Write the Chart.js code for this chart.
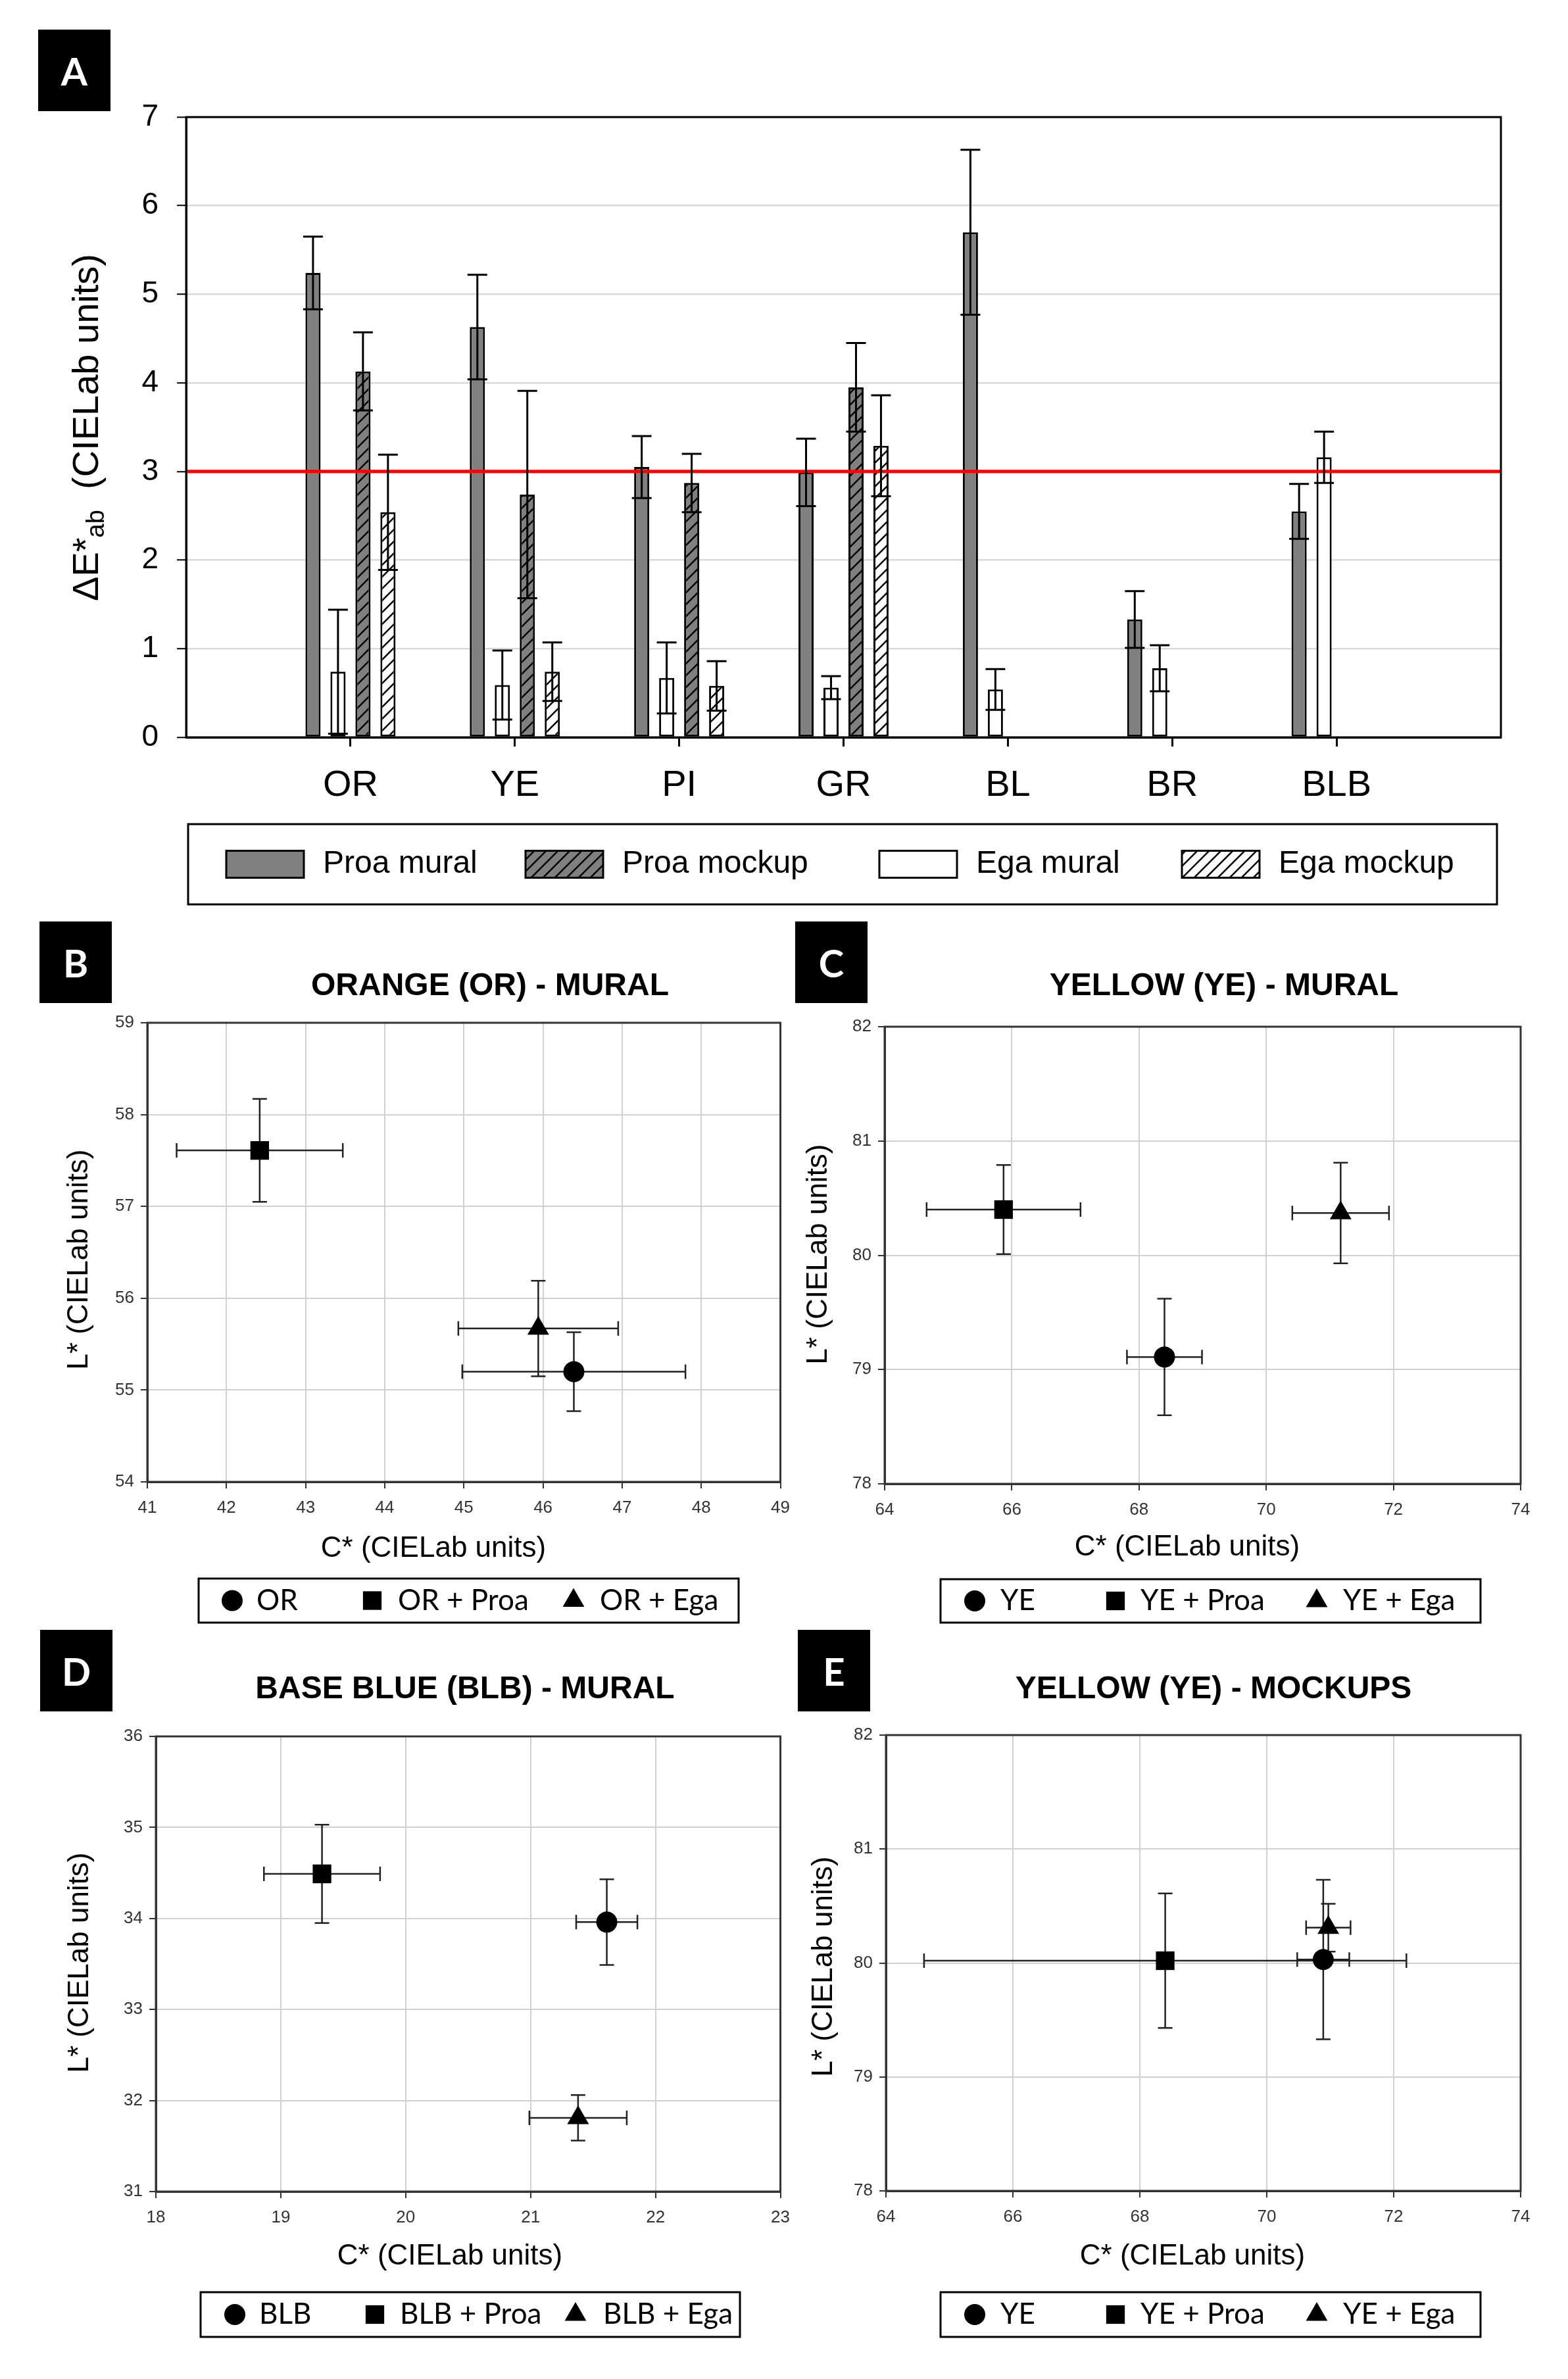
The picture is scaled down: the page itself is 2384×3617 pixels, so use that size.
<!DOCTYPE html>
<html>
<head>
<meta charset="utf-8">
<title>Colour difference and L*C* plots</title>
<script src="https://cdn.jsdelivr.net/npm/chart.js@4.4.1/dist/chart.umd.min.js"></script>
<style>
  html, body { margin: 0; padding: 0; background: #fff; }
  body { width: 2384px; height: 3617px; position: relative; overflow: hidden; }
  canvas { position: absolute; }
  .tag {
    position: absolute; width: 110px; height: 124px; z-index: 2;
    background: #000; color: #fff;
    font: bold 58px Lato, 'Open Sans', sans-serif;
    display: flex; align-items: center; justify-content: center;
  }
</style>
</head>
<body>
<div class="tag" style="left:58px;top:45px">A</div>
<div class="tag" style="left:60px;top:1401px">B</div>
<div class="tag" style="left:1209px;top:1401px">C</div>
<div class="tag" style="left:61px;top:2478px">D</div>
<div class="tag" style="left:1213px;top:2478px">E</div>

<canvas id="chartA" width="2384" height="1400" style="left:0;top:0"></canvas>
<canvas id="chartB" width="1215" height="1110" style="left:0;top:1380px"></canvas>
<canvas id="chartC" width="1189" height="1110" style="left:1195px;top:1380px"></canvas>
<canvas id="chartD" width="1215" height="1152" style="left:0;top:2465px"></canvas>
<canvas id="chartE" width="1189" height="1152" style="left:1195px;top:2465px"></canvas>

<script>
// ---- panel A: colour difference per pigment ----
const categories = ['OR', 'YE', 'PI', 'GR', 'BL', 'BR', 'BLB'];
const proaMural = [5.24, 4.63, 3.05, 2.99, 5.70, 1.33, 2.55];
const proaMuralSd = [0.41, 0.59, 0.35, 0.38, 0.93, 0.32, 0.31];
const egaMural = [0.74, 0.59, 0.67, 0.56, 0.54, 0.78, 3.16];
const egaMuralSd = [0.70, 0.39, 0.40, 0.13, 0.23, 0.26, 0.29];
const proaMockup = [4.13, 2.74, 2.87, 3.95, null, null, null];
const proaMockupSd = [0.44, 1.17, 0.33, 0.50, null, null, null];
const egaMockup = [2.54, 0.74, 0.58, 3.29, null, null, null];
const egaMockupSd = [0.65, 0.33, 0.28, 0.57, null, null, null];
const threshold = 3;
const deltaTicks = [0, 1, 2, 3, 4, 5, 6, 7];

// ---- panels B-E: L* vs C* ----
const orNames = ['OR', 'OR + Proa', 'OR + Ega'];
const orC = [46.39, 42.42, 45.94];
const orL = [55.20, 57.61, 55.67];
const orCErr = [1.41, 1.05, 1.01];
const orLErr = [0.43, 0.56, 0.52];
const orCTicks = [41, 42, 43, 44, 45, 46, 47, 48, 49];
const orLTicks = [54, 55, 56, 57, 58, 59];

const yeNames = ['YE', 'YE + Proa', 'YE + Ega'];
const yeC = [68.40, 65.87, 71.17];
const yeL = [79.11, 80.40, 80.37];
const yeCErr = [0.59, 1.21, 0.76];
const yeLErr = [0.51, 0.39, 0.44];
const yeCTicks = [64, 66, 68, 70, 72, 74];
const yeLTicks = [78, 79, 80, 81, 82];

const blbNames = ['BLB', 'BLB + Proa', 'BLB + Ega'];
const blbC = [21.61, 19.33, 21.38];
const blbL = [33.96, 34.49, 31.81];
const blbCErr = [0.245, 0.465, 0.39];
const blbLErr = [0.47, 0.54, 0.25];
const blbCTicks = [18, 19, 20, 21, 22, 23];
const blbLTicks = [31, 32, 33, 34, 35, 36];

const yeMockNames = ['YE', 'YE + Proa', 'YE + Ega'];
const yeMockC = [70.89, 68.40, 70.97];
const yeMockL = [80.03, 80.02, 80.31];
const yeMockCErr = [0.41, 3.80, 0.35];
const yeMockLErr = [0.70, 0.59, 0.21];

const markerStyles = ['circle', 'rect', 'triangle'];
const markerRadii = [16, 20, 19];

const ARIAL = "'Liberation Sans', Arial, sans-serif";
const CALIBRI = "Lato, 'Open Sans', sans-serif";

// draw a marker the same way Chart.js shapes its points
function marker(ctx, style, r, x, y) {
  ctx.beginPath();
  if (style === 'circle') {
    ctx.arc(x, y, r, 0, Math.PI * 2);
  } else if (style === 'rect') {
    const s = r * Math.SQRT1_2;
    ctx.rect(x - s, y - s, 2 * s, 2 * s);
  } else {
    ctx.moveTo(x, y - r);
    ctx.lineTo(x + r * Math.sin(Math.PI * 2 / 3), y + r / 2);
    ctx.lineTo(x - r * Math.sin(Math.PI * 2 / 3), y + r / 2);
    ctx.closePath();
  }
  ctx.fill();
}

function hatch(ctx, bg) {
  const size = 18;
  const c = document.createElement('canvas');
  c.width = c.height = size;
  const g = c.getContext('2d');
  g.fillStyle = bg;
  g.fillRect(0, 0, size, size);
  g.strokeStyle = '#000';
  g.lineWidth = 2.5;
  g.beginPath();
  g.moveTo(-2, size + 2); g.lineTo(size + 2, -2);
  g.moveTo(-2, 2); g.lineTo(2, -2);
  g.moveTo(size - 2, size + 2); g.lineTo(size + 2, size - 2);
  g.stroke();
  return ctx.createPattern(c, 'repeat');
}

// error bars: vertical for bars, both directions for scatter points
function drawErrors(chart, opts) {
  const {ctx, scales: {x, y}} = chart;
  ctx.save();
  ctx.strokeStyle = opts.color;
  ctx.lineWidth = opts.width;
  const cap = opts.cap;
  chart.data.datasets.forEach((ds, i) => {
    if (!ds.errorY) return;
    const meta = chart.getDatasetMeta(i);
    meta.data.forEach((el, j) => {
      const raw = ds.data[j];
      const ey = ds.errorY[j];
      if (raw == null || ey == null) return;
      const v = typeof raw === 'object' ? raw.y : raw;
      const top = y.getPixelForValue(v + ey);
      const bot = y.getPixelForValue(Math.max(v - ey, y.min));
      ctx.beginPath();
      ctx.moveTo(el.x, top); ctx.lineTo(el.x, bot);
      ctx.moveTo(el.x - cap, top); ctx.lineTo(el.x + cap, top);
      ctx.moveTo(el.x - cap, bot); ctx.lineTo(el.x + cap, bot);
      if (ds.errorX && typeof raw === 'object') {
        const ex = ds.errorX[j];
        const l = x.getPixelForValue(raw.x - ex);
        const r = x.getPixelForValue(raw.x + ex);
        ctx.moveTo(l, el.y); ctx.lineTo(r, el.y);
        ctx.moveTo(l, el.y - cap); ctx.lineTo(l, el.y + cap);
        ctx.moveTo(r, el.y - cap); ctx.lineTo(r, el.y + cap);
      }
      ctx.stroke();
    });
  });
  ctx.restore();
}

const errorBars = {
  id: 'errorBars',
  beforeDatasetsDraw(chart, args, opts) { if (opts.color && opts.under) drawErrors(chart, opts); },
  afterDatasetsDraw(chart, args, opts) { if (opts.color && !opts.under) drawErrors(chart, opts); }
};

const frame = {
  id: 'frame',
  afterDraw(chart, args, opts) {
    if (!opts.color) return;
    const {ctx, chartArea: a} = chart;
    ctx.save();
    ctx.strokeStyle = opts.color;
    ctx.lineWidth = opts.width;
    ctx.strokeRect(a.left, a.top, a.right - a.left, a.bottom - a.top);
    ctx.restore();
  }
};

const framedLegend = {
  id: 'framedLegend',
  afterDraw(chart, args, opts) {
    if (!opts.box) return;
    const {ctx} = chart;
    const box = opts.box;
    const cy = box.top + box.height / 2;
    ctx.save();
    ctx.strokeStyle = '#000';
    ctx.lineWidth = opts.lineWidth;
    ctx.strokeRect(box.left, box.top, box.width, box.height);
    ctx.font = opts.font;
    ctx.textBaseline = 'middle';
    ctx.textAlign = 'left';
    opts.items.forEach(item => {
      if (item.swatch) {
        const {w, h} = opts.swatchSize;
        ctx.fillStyle = item.swatch;
        ctx.fillRect(item.x, cy - h / 2, w, h);
        ctx.lineWidth = 3;
        ctx.strokeRect(item.x, cy - h / 2, w, h);
        ctx.fillStyle = '#000';
        ctx.fillText(item.text, item.x + w + opts.gap, cy);
      } else {
        ctx.fillStyle = '#000';
        marker(ctx, item.style, item.radius, item.x, cy);
        ctx.fillText(item.text, item.textX, cy);
      }
    });
    ctx.restore();
  }
};

const panelText = {
  id: 'panelText',
  afterDraw(chart, args, opts) {
    if (!opts.items) return;
    const {ctx} = chart;
    opts.items.forEach(item => {
      ctx.save();
      ctx.translate(item.x, item.y);
      if (item.rotate) ctx.rotate(item.rotate * Math.PI / 180);
      ctx.fillStyle = '#000';
      ctx.textBaseline = 'middle';
      ctx.textAlign = 'left';
      const parts = item.parts || [{text: item.text, font: item.font}];
      const widths = parts.map(p => { ctx.font = p.font; return ctx.measureText(p.text).width; });
      let cx = -widths.reduce((s, w) => s + w, 0) / 2;
      parts.forEach((p, k) => {
        ctx.font = p.font;
        ctx.fillText(p.text, cx, p.dy || 0);
        cx += widths[k];
      });
      ctx.restore();
    });
  }
};

Chart.register(errorBars, frame, framedLegend, panelText);

// ---------- panel A ----------
const canvasA = document.getElementById('chartA');
const ctxA = canvasA.getContext('2d');
const grayFill = '#808080';
const grayHatch = hatch(ctxA, grayFill);
const whiteHatch = hatch(ctxA, '#ffffff');
const axisLabels = ['', ...categories, ''];
const pad = arr => [null, ...arr, null];

new Chart(ctxA, {
  data: {
    labels: axisLabels,
    datasets: [
      { type: 'line', label: 'ΔE*ab = 3', data: axisLabels.map(() => threshold),
        borderColor: '#ff0000', borderWidth: 5, pointRadius: 0, order: 1 },
      { type: 'bar', label: 'Proa mural', data: pad(proaMural), errorY: pad(proaMuralSd),
        backgroundColor: grayFill, order: 2 },
      { type: 'bar', label: 'Ega mural', data: pad(egaMural), errorY: pad(egaMuralSd),
        backgroundColor: '#ffffff', order: 2 },
      { type: 'bar', label: 'Proa mockup', data: pad(proaMockup), errorY: pad(proaMockupSd),
        backgroundColor: grayHatch, order: 2 },
      { type: 'bar', label: 'Ega mockup', data: pad(egaMockup), errorY: pad(egaMockupSd),
        backgroundColor: whiteHatch, order: 2 }
    ]
  },
  options: {
    responsive: false,
    animation: false,
    devicePixelRatio: 1,
    events: [],
    layout: { padding: { left: 183, right: 102, top: 178, bottom: 159 } },
    datasets: {
      bar: { categoryPercentage: 0.608, barPercentage: 0.605, borderColor: '#000',
             borderWidth: 3, borderSkipped: false }
    },
    scales: {
      x: {
        type: 'category',
        offset: false,
        grid: {
          offset: false,
          drawOnChartArea: false, tickLength: 14, tickWidth: 3,
          tickColor: c => (c.index === 0 || c.index === axisLabels.length - 1) ? 'rgba(0,0,0,0)' : '#000'
        },
        border: { color: '#000', width: 3 },
        ticks: { font: { family: ARIAL, size: 56 }, color: '#000', padding: 26, autoSkip: false, maxRotation: 0 },
        afterFit: s => { s.height = 120; }
      },
      y: {
        min: deltaTicks[0],
        max: deltaTicks[deltaTicks.length - 1],
        grid: { color: '#d9d9d9', lineWidth: 2.5, tickLength: 14, tickColor: '#000', tickWidth: 2 },
        border: { color: '#000', width: 3 },
        ticks: { stepSize: 1, font: { family: ARIAL, size: 46 }, color: '#000', padding: 28 },
        afterFit: s => { s.width = 100; }
      }
    },
    plugins: {
      legend: { display: false },
      tooltip: { enabled: false },
      errorBars: { color: '#000', width: 3, cap: 15 },
      frame: { color: '#000', width: 3 },
      framedLegend: {
        box: { left: 286, top: 1253, width: 1990, height: 122 },
        lineWidth: 3,
        font: `48px ${ARIAL}`,
        swatchSize: { w: 118, h: 41 },
        gap: 29,
        items: [
          { text: 'Proa mural', swatch: grayFill, x: 344 },
          { text: 'Proa mockup', swatch: grayHatch, x: 799 },
          { text: 'Ega mural', swatch: '#ffffff', x: 1337 },
          { text: 'Ega mockup', swatch: whiteHatch, x: 1797 }
        ]
      },
      panelText: {
        items: [{
          x: 134, y: 650, rotate: -90,
          parts: [
            { text: 'ΔE*', font: `56px ${ARIAL}` },
            { text: 'ab', font: `38px ${ARIAL}`, dy: 14 },
            { text: '  (CIELab units)', font: `56px ${ARIAL}` }
          ]
        }]
      }
    }
  }
});

// ---------- panels B-E ----------
function lcScatter(id, p) {
  const canvas = document.getElementById(id);
  const a = p.area;
  const cStep = p.cTicks[1] - p.cTicks[0];
  const lStep = p.lTicks[1] - p.lTicks[0];
  const tickFont = { family: ARIAL, size: 26 };
  return new Chart(canvas, {
    type: 'scatter',
    data: {
      datasets: p.names.map((name, i) => ({
        label: name,
        data: [{ x: p.c[i], y: p.l[i] }],
        errorX: [p.cErr[i]],
        errorY: [p.lErr[i]],
        pointStyle: markerStyles[i],
        pointRadius: markerRadii[i],
        backgroundColor: '#000',
        borderWidth: 0
      }))
    },
    options: {
      responsive: false,
      animation: false,
      devicePixelRatio: 1,
      events: [],
      layout: { padding: { left: a.left - 80, right: canvas.width - a.right, top: a.top, bottom: canvas.height - a.bottom - 100 } },
      scales: {
        x: {
          type: 'linear',
          min: p.cTicks[0],
          max: p.cTicks[p.cTicks.length - 1],
          grid: { color: '#d0d0d0', lineWidth: 2, tickLength: 10, tickColor: '#333', tickWidth: 2 },
          border: { color: '#333', width: 3 },
          ticks: { stepSize: cStep, font: tickFont, color: '#333', padding: 14 },
          afterFit: s => { s.height = 100; }
        },
        y: {
          type: 'linear',
          min: p.lTicks[0],
          max: p.lTicks[p.lTicks.length - 1],
          grid: { color: '#d0d0d0', lineWidth: 2, tickLength: 10, tickColor: '#333', tickWidth: 2 },
          border: { color: '#333', width: 3 },
          ticks: { stepSize: lStep, font: tickFont, color: '#333', padding: 10 },
          afterFit: s => { s.width = 80; }
        }
      },
      plugins: {
        legend: { display: false },
        tooltip: { enabled: false },
        errorBars: { color: '#222', width: 2.5, cap: 11, under: true },
        frame: { color: '#333', width: 3 },
        framedLegend: {
          box: p.legendBox,
          lineWidth: 3,
          font: `44px ${CALIBRI}`,
          items: p.names.map((name, i) => ({
            text: name, style: markerStyles[i], radius: markerRadii[i],
            x: p.markerX[i], textX: p.textX[i]
          }))
        },
        panelText: {
          items: [
            { text: p.title, font: `bold 48px ${ARIAL}`, x: p.titlePos[0], y: p.titlePos[1] },
            { text: 'C* (CIELab units)', font: `44px ${ARIAL}`, x: p.xTitlePos[0], y: p.xTitlePos[1] },
            { text: 'L* (CIELab units)', font: `44px ${ARIAL}`, x: p.yTitlePos[0], y: p.yTitlePos[1], rotate: -90 }
          ]
        }
      }
    }
  });
}

lcScatter('chartB', {
  names: orNames, c: orC, l: orL, cErr: orCErr, lErr: orLErr,
  cTicks: orCTicks, lTicks: orLTicks,
  area: { left: 224, top: 175, right: 1194, bottom: 873 },
  title: 'ORANGE (OR) - MURAL', titlePos: [745, 120],
  xTitlePos: [659, 975], yTitlePos: [121, 535],
  legendBox: { left: 302, top: 1020, width: 821, height: 67 },
  markerX: [353, 566, 872], textX: [390, 605, 912]
});

lcScatter('chartC', {
  names: yeNames, c: yeC, l: yeL, cErr: yeCErr, lErr: yeLErr,
  cTicks: yeCTicks, lTicks: yeLTicks,
  area: { left: 150, top: 181, right: 1117, bottom: 876 },
  title: 'YELLOW (YE) - MURAL', titlePos: [666, 120],
  xTitlePos: [610, 973], yTitlePos: [50, 527],
  legendBox: { left: 235, top: 1021, width: 821, height: 66 },
  markerX: [287, 501, 807], textX: [326, 539, 847]
});

lcScatter('chartD', {
  names: blbNames, c: blbC, l: blbL, cErr: blbCErr, lErr: blbLErr,
  cTicks: blbCTicks, lTicks: blbLTicks,
  area: { left: 237, top: 175, right: 1198, bottom: 867 },
  title: 'BASE BLUE (BLB) - MURAL', titlePos: [707, 104],
  xTitlePos: [684, 966], yTitlePos: [122, 519],
  legendBox: { left: 305, top: 1020, width: 820, height: 68 },
  markerX: [357, 570, 875], textX: [394, 608, 917]
});

lcScatter('chartE', {
  names: yeMockNames, c: yeMockC, l: yeMockL, cErr: yeMockCErr, lErr: yeMockLErr,
  cTicks: yeCTicks, lTicks: yeLTicks,
  area: { left: 152, top: 173, right: 1117, bottom: 866 },
  title: 'YELLOW (YE) - MOCKUPS', titlePos: [650, 104],
  xTitlePos: [618, 966], yTitlePos: [58, 525],
  legendBox: { left: 235, top: 1020, width: 821, height: 68 },
  markerX: [287, 501, 807], textX: [326, 539, 847]
});
</script>
</body>
</html>
